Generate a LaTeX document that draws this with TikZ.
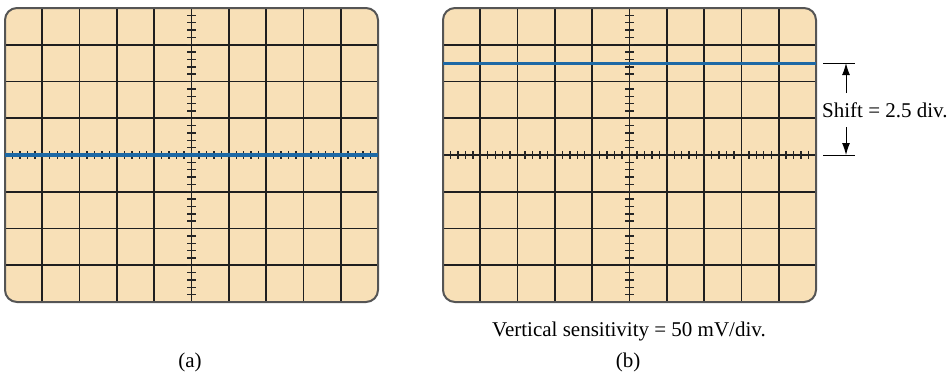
\documentclass[tikz,border=0pt]{standalone}
\usepackage{fontspec}
\setmainfont{Liberation Serif}
\usetikzlibrary{arrows.meta}
\definecolor{screenfill}{RGB}{248,224,183}
\definecolor{tracecol}{RGB}{30,105,165}
\definecolor{rimcol}{RGB}{85,85,85}
\begin{document}
\begin{tikzpicture}[x=1pt,y=-1pt,
  gridline/.style={draw=black!88,line width=1.7pt},
  tickline/.style={draw=black!85,line width=1.4pt},
  rimline/.style={draw=rimcol,line width=2pt,rounded corners=12pt},
  traceline/.style={draw=tracecol,line width=3.2pt},
  dimline/.style={draw=black,line width=1pt},
  dimarrow/.style={draw=black,line width=1pt,-{Latex[length=12pt,width=8pt]}},
  lbl/.style={font=\fontsize{21}{24}\selectfont,inner sep=0pt}]
\useasboundingbox (0,0) rectangle (950,375);
\def\W{373}\def\H{294}\def\cw{37.3}\def\ch{36.75}
\foreach \xo/\nm in {5/a,443/b}{
  \begin{scope}[shift={(\xo,8)}]
    \fill[screenfill,rounded corners=12pt] (0,0) rectangle (\W,\H);
    \foreach \i in {1,...,9} \draw[gridline] (\i*\cw,0) -- (\i*\cw,\H);
    \foreach \j in {1,...,7} \draw[gridline] (0,\j*\ch) -- (\W,\j*\ch);
    \foreach \k in {1,...,39} \draw[tickline] (186.5-4.5,\k*7.35) -- (186.5+4.5,\k*7.35);
    \foreach \k in {1,...,49} \draw[tickline] (\k*7.46,147-4) -- (\k*7.46,147+4);
    \draw[rimline] (0,0) rectangle (\W,\H);
    \coordinate (\nm-w) at (0,147);
    \coordinate (\nm-e) at (\W,147);
  \end{scope}
}
% traces
\draw[traceline] (a-w) -- (a-e);
\coordinate (tw) at (443,63.1);
\coordinate (te) at (816,63.1);
\draw[traceline] (tw) -- (te);
% dimension
\coordinate (d1a) at (823,63.1); \coordinate (d1b) at (855,63.1);
\coordinate (d2a) at (823,155); \coordinate (d2b) at (855,155);
\draw[dimline] (d1a) -- (d1b);
\draw[dimline] (d2a) -- (d2b);
\node[lbl,anchor=west] (shift) at (822,110) {Shift = 2.5 div.};
\coordinate (u0) at (846,93); \coordinate (u1) at (846,63.1);
\coordinate (l0) at (846,127); \coordinate (l1) at (846,155);
\draw[dimarrow] (u0) -- (u1);
\draw[dimarrow] (l0) -- (l1);
\node[lbl] (sens) at (629,331) {Vertical sensitivity = 50 mV/div.};
\node[lbl] (capa) at (190,362) {(a)};
\node[lbl] (capb) at (628,362) {(b)};
\end{tikzpicture}
\end{document}
